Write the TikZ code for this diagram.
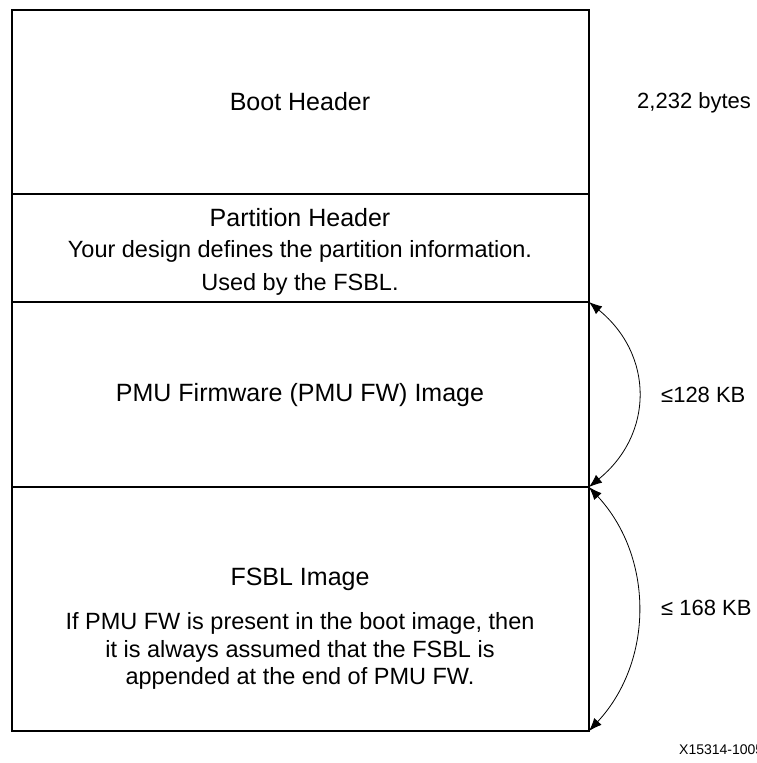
\documentclass[tikz,border=0pt]{standalone}
\usepackage{fontspec}
\setmainfont{Liberation Sans}
\usetikzlibrary{arrows.meta}

\begin{document}
\begin{tikzpicture}[x=1pt, y=-1pt, >={Latex[length=13pt,width=10pt]},
  sect/.style={draw, line width=2pt, minimum width=577pt, outer sep=0pt, inner sep=0pt},
  title/.style={font=\fontsize{25}{30}\selectfont, inner sep=0pt},
  txt/.style={font=\fontsize{23.5}{33}\selectfont, align=center, inner sep=0pt},
  side/.style={font=\fontsize{22}{26}\selectfont, anchor=west, inner sep=0pt}]
  \useasboundingbox (0,0) rectangle (756,763);

  % Bereiche
  \node[sect, minimum height=184pt] (boot) at (300.5,102) {};
  \node[sect, minimum height=108pt] (part) at (300.5,248) {};
  \node[sect, minimum height=185pt] (pmu)  at (300.5,394.5) {};
  \node[sect, minimum height=244pt] (fsbl) at (300.5,609) {};

  % Texte
  \node[title] (bootlbl) at (300,102) {Boot Header};
  \node[title] (parttitle) at (300,218) {Partition Header};
  \node[txt] (partinfo) at (300,268) {Your design defines the partition information.\\Used by the FSBL.};
  \node[title] (pmulbl) at (300,395) {PMU Firmware (PMU FW) Image};
  \node[title] (fsbllbl) at (300,579) {FSBL Image};
  \node[txt, font=\fontsize{23.5}{27.5}\selectfont] (fsblinfo) at (300,651)
    {If PMU FW is present in the boot image, then\\it is always assumed that the FSBL is\\appended at the end of PMU FW.};

  % Groessen
  \node[side] (bootsize) at (637,103) {2,232 bytes};
  \node[side] (pmusize) at (661,395) {≤128 KB};
  \node[side] (fsblsize) at (661,608) {≤ 168 KB};
  \node[side, font=\fontsize{14}{16}\selectfont] (figid) at (679,750) {X15314-1005};

  % Boegen
  \draw[<->, line width=0.8pt] (pmu.north east) .. controls +(65,53) and +(65,-53) .. (pmu.south east);
  \draw[<->, line width=0.8pt] (fsbl.north east) .. controls +(65,70) and +(65,-70) .. (fsbl.south east);
\end{tikzpicture}
\end{document}
